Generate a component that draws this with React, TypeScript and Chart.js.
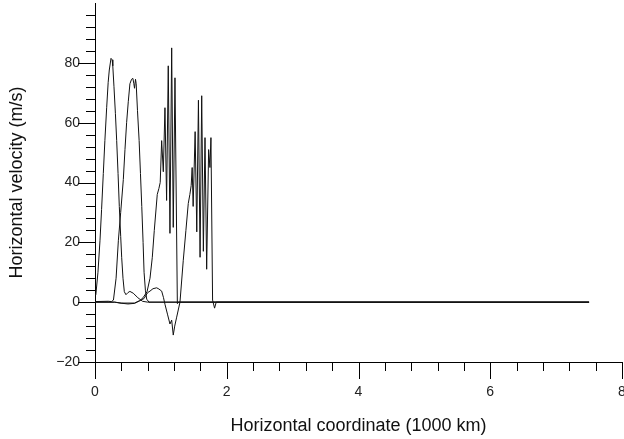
import React, { useEffect, useRef } from 'react';
import { Chart, registerables } from 'chart.js';

Chart.register(...registerables);

// Axis ranges and tick labels
const X_MIN = 0;
const X_MAX = 8;
const Y_MIN = -20;
const Y_MAX = 100;
const xMajorTicks = [0, 2, 4, 6, 8];
const yMajorTicks = [-20, 0, 20, 40, 60, 80];
const xMinorStep = 0.4;
const yMinorStep = 4;

// Snapshot 1 (first pulse)
const xA = [0, 0.015, 0.045, 0.076, 0.1, 0.126, 0.15, 0.177, 0.2, 0.217, 0.243, 0.26, 0.27, 0.288, 0.31, 0.329, 0.35, 0.369, 0.39, 0.405, 0.425, 0.445, 0.47, 0.5, 0.53, 0.58, 0.65, 0.72, 0.8, 7.5];
const vA = [2.5, 3, 10, 20.7, 31, 43, 54, 65, 73.5, 77.6, 81.5, 81, 79, 72, 63, 54, 43, 32, 22, 15, 8, 3.5, 2.5, 3.2, 3.6, 3, 1.5, 0.3, 0, 0];

// Snapshot 2
const xB = [0, 0.2, 0.25, 0.28, 0.32, 0.355, 0.39, 0.43, 0.455, 0.48, 0.505, 0.53, 0.555, 0.575, 0.59, 0.6, 0.615, 0.625, 0.645, 0.67, 0.69, 0.71, 0.73, 0.745, 0.765, 0.785, 0.82, 7.5];
const vB = [0.2, 0.3, 0.2, 0.7, 8, 20.7, 30, 41, 51, 60, 67, 73, 74.5, 74.8, 73, 71.5, 74.5, 73, 64, 54, 43, 32, 20, 10, 4, 1, 0, 0];

// Snapshot 3
const xC = [0, 0.3, 0.38, 0.5, 0.6, 0.68, 0.73, 0.79, 0.835, 0.87, 0.9, 0.945, 0.97, 0.99, 1.012, 1.037, 1.062, 1.087, 1.112, 1.138, 1.164, 1.188, 1.214, 1.25, 1.27, 7.5];
const vC = [0, 0, -0.3, -0.6, -0.4, 0.5, 1.5, 3.5, 8, 15, 24, 36, 38, 40, 54, 43.6, 65, 34, 79, 23, 85, 25, 75, -0.5, 0, 0];

// Snapshot 4
const xD = [0, 0.3, 0.4, 0.6, 0.68, 0.744, 0.8, 0.835, 0.88, 0.936, 0.97, 1.012, 1.04, 1.062, 1.1, 1.138, 1.164, 1.188, 1.21, 1.24, 1.29, 1.34, 1.38, 1.416, 1.44, 1.46, 1.475, 1.49, 1.52, 1.545, 1.57, 1.595, 1.62, 1.645, 1.67, 1.695, 1.725, 1.745, 1.76, 1.785, 1.815, 1.84, 7.5];
const vD = [0, 0, -0.3, -0.3, 0.5, 1.2, 3.2, 3.7, 4.5, 4.8, 4.4, 3.7, 1.5, -0.7, -4, -7.3, -6, -11, -8, -5, 0, 14, 24, 33, 36, 39, 45, 32, 57, 23.5, 67.5, 15, 69, 17, 55, 11, 51, 45, 55, 0.7, -2, 0, 0];

const seriesX = [xA, xB, xC, xD];
const seriesV = [vA, vB, vC, vD];

const FONT = '"Liberation Sans", Arial, Helvetica, sans-serif';

const tickMarksPlugin = {
  id: 'tickMarks',
  afterDraw(chart: any) {
    const ctx = chart.ctx;
    const xs = chart.scales.x;
    const ys = chart.scales.y;
    const area = chart.chartArea;
    ctx.save();
    ctx.strokeStyle = '#000';
    ctx.lineWidth = 1;
    ctx.beginPath();
    const nx = Math.round((X_MAX - X_MIN) / xMinorStep);
    for (let i = 0; i <= nx; i++) {
      const v = X_MIN + i * xMinorStep;
      const major = xMajorTicks.some((m) => Math.abs(m - v) < 1e-6);
      const px = Math.round(xs.getPixelForValue(v)) + 0.5;
      ctx.moveTo(px, area.bottom);
      ctx.lineTo(px, area.bottom + (major ? 17 : 9));
    }
    const ny = Math.round((Y_MAX - Y_MIN) / yMinorStep);
    for (let i = 0; i < ny; i++) {
      const v = Y_MIN + i * yMinorStep;
      const major = yMajorTicks.some((m) => Math.abs(m - v) < 1e-6);
      const py = Math.round(ys.getPixelForValue(v)) + 0.5;
      ctx.moveTo(area.left, py);
      ctx.lineTo(area.left - (major ? 17 : 9), py);
    }
    ctx.stroke();
    ctx.restore();
  },
};

export default function App() {
  const canvasRef = useRef<HTMLCanvasElement | null>(null);

  useEffect(() => {
    document.body.style.margin = '0';
    const canvas = canvasRef.current;
    if (!canvas) return;
    const datasets = seriesX.map((xs, k) => ({
      label: 'snapshot ' + (k + 1),
      data: xs.map((x, i) => ({ x, y: seriesV[k][i] })),
      borderColor: '#111',
      borderWidth: 1,
      pointRadius: 0,
      tension: 0,
      fill: false,
    }));
    const chart = new Chart(canvas, {
      type: 'line',
      data: { datasets },
      plugins: [tickMarksPlugin],
      options: {
        animation: false,
        responsive: true,
        maintainAspectRatio: false,
        devicePixelRatio: 1,
        layout: { padding: { top: 3, right: 2, left: 0, bottom: 0 } },
        plugins: {
          legend: { display: false },
          tooltip: { enabled: false },
        },
        scales: {
          x: {
            type: 'linear',
            min: X_MIN,
            max: X_MAX,
            afterFit: (s: any) => {
              s.height = 77;
              s.paddingLeft = 0;
              s.paddingRight = 0;
            },
            afterBuildTicks: (s: any) => {
              s.ticks = xMajorTicks.map((v) => ({ value: v }));
            },
            grid: { display: true, drawOnChartArea: false, drawTicks: false },
            border: { display: true, color: '#000', width: 1 },
            ticks: {
              padding: 22,
              color: '#222',
              font: { family: FONT, size: 14 },
              maxRotation: 0,
              callback: (v: any) => String(v),
            },
            title: {
              display: true,
              text: 'Horizontal coordinate (1000 km)',
              color: '#111',
              font: { family: FONT, size: 18 },
              padding: { top: 0, bottom: 2 },
            },
          },
          y: {
            type: 'linear',
            min: Y_MIN,
            max: Y_MAX,
            afterFit: (s: any) => {
              s.width = 95;
              s.paddingTop = 0;
              s.paddingBottom = 0;
            },
            afterBuildTicks: (s: any) => {
              s.ticks = yMajorTicks.map((v) => ({ value: v }));
            },
            grid: { display: true, drawOnChartArea: false, drawTicks: false },
            border: { display: true, color: '#000', width: 1 },
            ticks: {
              padding: 15,
              color: '#222',
              font: { family: FONT, size: 14 },
              callback: (v: any) => (v < 0 ? '\u2212' + Math.abs(v) : String(v)),
            },
            title: {
              display: true,
              text: 'Horizontal velocity (m/s)',
              color: '#111',
              font: { family: FONT, size: 18 },
              padding: { top: 6, bottom: 0 },
            },
          },
        },
      },
    });
    return () => chart.destroy();
  }, []);

  return (
    <div style={{ position: 'absolute', left: 0, top: 0, width: 624, height: 439, background: '#fff' }}>
      <canvas ref={canvasRef} />
    </div>
  );
}
